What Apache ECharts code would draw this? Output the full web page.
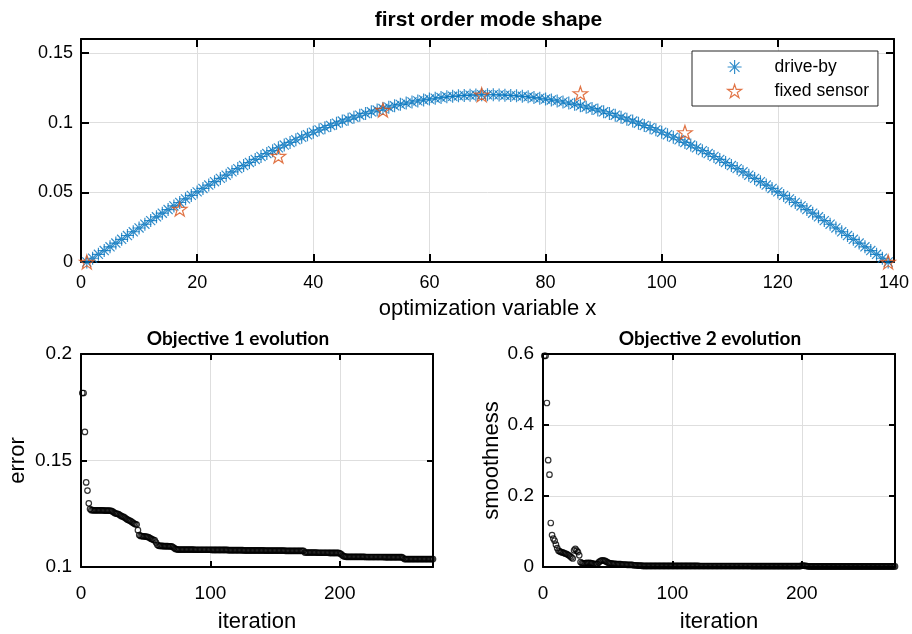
<!DOCTYPE html>
<html>
<head>
<meta charset="utf-8">
<script src="https://cdn.jsdelivr.net/npm/echarts@6/dist/echarts.min.js"></script>
<style>
  html, body { margin: 0; padding: 0; background: #fff; }
  #chart { width: 912px; height: 634px; }
</style>
</head>
<body>
<div id="chart"></div>
<script>
// First order mode shape identified from the drive-by measurements (node 1..139)
const driveByShape = [
  0.0000, 0.0027, 0.0055, 0.0082, 0.0109, 0.0136, 0.0163, 0.0190, 0.0217, 0.0244,
  0.0271, 0.0297, 0.0324, 0.0350, 0.0376, 0.0402, 0.0427, 0.0453, 0.0478, 0.0503,
  0.0528, 0.0552, 0.0576, 0.0600, 0.0623, 0.0647, 0.0670, 0.0692, 0.0714, 0.0736,
  0.0757, 0.0778, 0.0799, 0.0819, 0.0839, 0.0858, 0.0877, 0.0895, 0.0913, 0.0931,
  0.0948, 0.0964, 0.0980, 0.0996, 0.1011, 0.1025, 0.1039, 0.1053, 0.1066, 0.1078,
  0.1090, 0.1101, 0.1111, 0.1121, 0.1131, 0.1140, 0.1148, 0.1156, 0.1163, 0.1169,
  0.1175, 0.1180, 0.1185, 0.1189, 0.1192, 0.1195, 0.1197, 0.1199, 0.1200, 0.1200,
  0.1200, 0.1199, 0.1197, 0.1195, 0.1192, 0.1189, 0.1185, 0.1180, 0.1175, 0.1169,
  0.1163, 0.1156, 0.1148, 0.1140, 0.1131, 0.1121, 0.1111, 0.1101, 0.1090, 0.1078,
  0.1066, 0.1053, 0.1039, 0.1025, 0.1011, 0.0996, 0.0980, 0.0964, 0.0948, 0.0931,
  0.0913, 0.0895, 0.0877, 0.0858, 0.0839, 0.0819, 0.0799, 0.0778, 0.0757, 0.0736,
  0.0714, 0.0692, 0.0670, 0.0647, 0.0623, 0.0600, 0.0576, 0.0552, 0.0528, 0.0503,
  0.0478, 0.0453, 0.0427, 0.0402, 0.0376, 0.0350, 0.0324, 0.0297, 0.0271, 0.0244,
  0.0217, 0.0190, 0.0163, 0.0136, 0.0109, 0.0082, 0.0055, 0.0027, 0.0000
];

// Fixed sensor locations and their mode shape ordinates
const sensorPositions = [1, 17, 34, 52, 69, 86, 104, 139];
const sensorShape = [0.000, 0.038, 0.076, 0.109, 0.120, 0.121, 0.093, 0.000];

// Objective 1 (error) per iteration
const errorHistory = [
  0.1817, 0.1817, 0.1634, 0.1397, 0.1359, 0.1299, 0.1272, 0.1267, 0.1267, 0.1266,
  0.1266, 0.1266, 0.1266, 0.1266, 0.1266, 0.1266, 0.1266, 0.1265, 0.1265, 0.1265,
  0.1265, 0.1265, 0.1264, 0.1262, 0.1258, 0.1254, 0.1251, 0.1250, 0.1248, 0.1244,
  0.1240, 0.1237, 0.1235, 0.1231, 0.1226, 0.1222, 0.1219, 0.1217, 0.1213, 0.1208,
  0.1204, 0.1201, 0.1199, 0.1173, 0.1150, 0.1146, 0.1145, 0.1144, 0.1144, 0.1143,
  0.1142, 0.1140, 0.1137, 0.1133, 0.1130, 0.1128, 0.1125, 0.1115, 0.1104, 0.1100,
  0.1099, 0.1099, 0.1099, 0.1098, 0.1098, 0.1098, 0.1098, 0.1097, 0.1097, 0.1097,
  0.1094, 0.1089, 0.1085, 0.1083, 0.1082, 0.1082, 0.1082, 0.1082, 0.1082, 0.1082,
  0.1082, 0.1082, 0.1082, 0.1082, 0.1082, 0.1082, 0.1082, 0.1081, 0.1081, 0.1081,
  0.1081, 0.1081, 0.1081, 0.1081, 0.1081, 0.1081, 0.1081, 0.1081, 0.1081, 0.1081,
  0.1080, 0.1080, 0.1080, 0.1080, 0.1080, 0.1080, 0.1080, 0.1080, 0.1080, 0.1080,
  0.1080, 0.1080, 0.1080, 0.1079, 0.1079, 0.1079, 0.1079, 0.1079, 0.1079, 0.1079,
  0.1079, 0.1079, 0.1079, 0.1079, 0.1079, 0.1078, 0.1078, 0.1078, 0.1078, 0.1078,
  0.1078, 0.1078, 0.1078, 0.1078, 0.1078, 0.1078, 0.1078, 0.1078, 0.1078, 0.1078,
  0.1078, 0.1077, 0.1077, 0.1077, 0.1077, 0.1077, 0.1077, 0.1077, 0.1077, 0.1077,
  0.1077, 0.1077, 0.1077, 0.1077, 0.1077, 0.1077, 0.1077, 0.1076, 0.1076, 0.1076,
  0.1076, 0.1076, 0.1076, 0.1076, 0.1076, 0.1076, 0.1076, 0.1076, 0.1076, 0.1076,
  0.1076, 0.1076, 0.1068, 0.1068, 0.1068, 0.1068, 0.1068, 0.1068, 0.1068, 0.1068,
  0.1068, 0.1068, 0.1067, 0.1067, 0.1067, 0.1067, 0.1067, 0.1067, 0.1067, 0.1067,
  0.1067, 0.1066, 0.1066, 0.1066, 0.1066, 0.1066, 0.1066, 0.1066, 0.1066, 0.1064,
  0.1060, 0.1055, 0.1051, 0.1049, 0.1048, 0.1048, 0.1048, 0.1048, 0.1048, 0.1048,
  0.1048, 0.1048, 0.1048, 0.1048, 0.1048, 0.1048, 0.1048, 0.1048, 0.1048, 0.1047,
  0.1047, 0.1047, 0.1047, 0.1047, 0.1047, 0.1047, 0.1047, 0.1047, 0.1047, 0.1047,
  0.1047, 0.1047, 0.1047, 0.1047, 0.1046, 0.1046, 0.1046, 0.1046, 0.1046, 0.1046,
  0.1046, 0.1046, 0.1046, 0.1046, 0.1046, 0.1046, 0.1046, 0.1046, 0.1042, 0.1037,
  0.1037, 0.1037, 0.1037, 0.1037, 0.1037, 0.1037, 0.1037, 0.1037, 0.1037, 0.1037,
  0.1037, 0.1037, 0.1037, 0.1037, 0.1037, 0.1037, 0.1037, 0.1037, 0.1037, 0.1037,
  0.1037, 0.1037
];

// Objective 2 (smoothness) per iteration
const smoothnessHistory = [
  0.595, 0.595, 0.462, 0.301, 0.260, 0.124, 0.090, 0.080, 0.074, 0.063,
  0.053, 0.046, 0.044, 0.042, 0.041, 0.040, 0.038, 0.037, 0.035, 0.033,
  0.030, 0.027, 0.024, 0.047, 0.051, 0.046, 0.042, 0.033, 0.014, 0.011,
  0.010, 0.010, 0.011, 0.012, 0.011, 0.012, 0.011, 0.010, 0.009, 0.008,
  0.008, 0.009, 0.013, 0.016, 0.018, 0.019, 0.018, 0.017, 0.015, 0.013,
  0.011, 0.010, 0.010, 0.009, 0.009, 0.009, 0.008, 0.008, 0.008, 0.008,
  0.007, 0.007, 0.007, 0.007, 0.006, 0.006, 0.006, 0.006, 0.006, 0.005,
  0.005, 0.005, 0.004, 0.004, 0.004, 0.004, 0.003, 0.003, 0.003, 0.003,
  0.003, 0.003, 0.003, 0.003, 0.003, 0.003, 0.003, 0.003, 0.003, 0.003,
  0.003, 0.003, 0.003, 0.003, 0.003, 0.003, 0.003, 0.003, 0.003, 0.003,
  0.003, 0.003, 0.003, 0.003, 0.003, 0.003, 0.003, 0.003, 0.003, 0.003,
  0.003, 0.003, 0.003, 0.003, 0.003, 0.003, 0.003, 0.003, 0.003, 0.003,
  0.0028, 0.0028, 0.0028, 0.0028, 0.0028, 0.0028, 0.0028, 0.0028, 0.0028, 0.0028,
  0.0028, 0.0028, 0.0028, 0.0028, 0.0028, 0.0028, 0.0028, 0.0028, 0.0028, 0.0028,
  0.0028, 0.0028, 0.0028, 0.0028, 0.0028, 0.0028, 0.0028, 0.0028, 0.0028, 0.0028,
  0.0028, 0.0028, 0.0028, 0.0028, 0.0028, 0.0028, 0.0028, 0.0028, 0.0028, 0.0028,
  0.0025, 0.0025, 0.0025, 0.0025, 0.0025, 0.0025, 0.0025, 0.0025, 0.0025, 0.0025,
  0.0025, 0.0025, 0.0025, 0.0025, 0.0025, 0.0025, 0.0025, 0.0025, 0.0025, 0.0025,
  0.0025, 0.0025, 0.0025, 0.0025, 0.0025, 0.0025, 0.0025, 0.0025, 0.0025, 0.0025,
  0.0025, 0.0025, 0.0025, 0.0025, 0.0025, 0.0025, 0.0025, 0.0025, 0.0025, 0.004,
  0.004, 0.0035, 0.003, 0.0025, 0.002, 0.0015, 0.0015, 0.0015, 0.0015, 0.0015,
  0.0015, 0.0015, 0.0015, 0.0015, 0.0015, 0.0015, 0.0015, 0.0015, 0.0015, 0.0015,
  0.0015, 0.0015, 0.0015, 0.0015, 0.0015, 0.0015, 0.0015, 0.0015, 0.0015, 0.0015,
  0.0015, 0.0015, 0.0015, 0.0015, 0.0015, 0.0015, 0.0015, 0.0015, 0.0015, 0.0015,
  0.0015, 0.0015, 0.0015, 0.0015, 0.0015, 0.0015, 0.0015, 0.0015, 0.0015, 0.0015,
  0.0015, 0.0015, 0.0015, 0.0015, 0.0015, 0.0015, 0.0015, 0.0015, 0.0015, 0.0015,
  0.0015, 0.0015, 0.0015, 0.0015, 0.0015, 0.0015, 0.0015, 0.0015, 0.0015, 0.0015,
  0.0015, 0.0015
];

// Tick labels
const modeXTicks = ['0', '20', '40', '60', '80', '100', '120', '140'];
const modeYTicks = ['0', '0.05', '0.1', '0.15'];
const iterTicks = ['0', '100', '200'];
const errorTicks = ['0.1', '0.15', '0.2'];
const smoothTicks = ['0', '0.2', '0.4', '0.6'];

const FONT = '"Liberation Sans", Arial, Helvetica, sans-serif';
const TITLE_FONT = 'Lato, "Open Sans", sans-serif';
const ASTERISK = 'path://M50 0V100M0 50H100M15 15L85 85M15 85L85 15';
const PENTAGRAM = 'path://M50 0L61.23 34.55L97.55 34.55L68.17 55.9L79.39 90.45L50 69.1L20.61 90.45L31.83 55.9L2.45 34.55L38.77 34.55Z';
const BLUE = '#0072BD';
const ORANGE = '#D95319';

function tickFormatter(labels) {
  return function (v) {
    const hit = labels.find(t => Math.abs(parseFloat(t) - v) < 1e-9);
    return hit === undefined ? '' : hit;
  };
}

// A labelled axis plus a bare mirrored one, so every side of the box carries inward ticks
function axisPair(dim, gridIndex, range, labels, opts) {
  const line = { show: true, onZero: false, lineStyle: { color: '#000', width: 2 } };
  const tick = { show: true, inside: true, length: opts.tickLen, lineStyle: { color: '#000', width: 2 } };
  const main = {
    gridIndex, type: 'value', min: range[0], max: range[1], interval: range[2],
    position: dim === 'x' ? 'bottom' : 'left',
    axisLine: line, axisTick: tick,
    axisLabel: {
      show: true, margin: opts.labelMargin, fontSize: opts.labelSize, fontFamily: FONT, color: '#000',
      formatter: tickFormatter(labels), showMinLabel: true, showMaxLabel: true
    },
    splitLine: { show: true, lineStyle: { color: '#dedede', width: 1 } },
    name: opts.name, nameLocation: 'middle', nameGap: opts.nameGap,
    nameTextStyle: { fontSize: opts.nameSize, fontFamily: FONT, color: '#000' }
  };
  const mirror = {
    gridIndex, type: 'value', min: range[0], max: range[1], interval: range[2],
    position: dim === 'x' ? 'top' : 'right',
    axisLine: line, axisTick: tick,
    axisLabel: { show: false }, splitLine: { show: false }
  };
  return [main, mirror];
}

const xAxes = [].concat(
  axisPair('x', 0, [0, 140, 20], modeXTicks, { tickLen: 8, labelMargin: 12, labelSize: 18, name: 'optimization variable x', nameGap: 36, nameSize: 22 }),
  axisPair('x', 1, [0, 272, 100], iterTicks, { tickLen: 6, labelMargin: 17, labelSize: 19, name: 'iteration', nameGap: 44, nameSize: 22 }),
  axisPair('x', 2, [0, 272, 100], iterTicks, { tickLen: 6, labelMargin: 17, labelSize: 19, name: 'iteration', nameGap: 44, nameSize: 22 })
);
const yAxes = [].concat(
  axisPair('y', 0, [0, 0.16, 0.05], modeYTicks, { tickLen: 8, labelMargin: 8, labelSize: 18, name: '', nameGap: 0, nameSize: 18 }),
  axisPair('y', 1, [0.1, 0.2, 0.05], errorTicks, { tickLen: 6, labelMargin: 9, labelSize: 19, name: 'error', nameGap: 52, nameSize: 22 }),
  axisPair('y', 2, [0, 0.6, 0.2], smoothTicks, { tickLen: 6, labelMargin: 9, labelSize: 19, name: 'smoothness', nameGap: 40, nameSize: 22 })
);

const hollow = (c, w) => ({ color: 'rgba(0,0,0,0)', borderColor: c, borderWidth: w || 1 });

const option = {
  animation: false,
  backgroundColor: '#fff',
  grid: [
    { left: 81, top: 39, width: 815, height: 223, show: true, borderColor: '#000', borderWidth: 1 },
    { left: 81, top: 354, width: 352, height: 217, show: true, borderColor: '#000', borderWidth: 1 },
    { left: 543, top: 354, width: 352, height: 218, show: true, borderColor: '#000', borderWidth: 1 }
  ],
  xAxis: xAxes,
  yAxis: yAxes,
  legend: {
    orient: 'vertical', left: 692, top: 51,
    padding: [6, 9, 5, 35], itemGap: 4, itemWidth: 14, itemHeight: 14,
    backgroundColor: '#fff', borderColor: '#262626', borderWidth: 1, borderRadius: 0,
    textStyle: { fontSize: 17.5, fontFamily: FONT, color: '#000', lineHeight: 20, padding: [0, 0, 0, 28] },
    data: [
      { name: 'drive-by', icon: ASTERISK, itemStyle: hollow(BLUE, 1.2) },
      { name: 'fixed sensor', icon: PENTAGRAM, itemStyle: hollow(ORANGE, 1.2) }
    ]
  },
  graphic: [
    { type: 'text', x: 488.5, y: 20, style: { text: 'first order mode shape', font: 'bold 21px ' + FONT, fill: '#000', align: 'center', verticalAlign: 'middle' } },
    { type: 'text', x: 238, y: 339, style: { text: 'Objective 1 evolution', font: 'bold 19px ' + TITLE_FONT, fill: '#000', align: 'center', verticalAlign: 'middle' } },
    { type: 'text', x: 710, y: 339, style: { text: 'Objective 2 evolution', font: 'bold 19px ' + TITLE_FONT, fill: '#000', align: 'center', verticalAlign: 'middle' } }
  ],
  series: [
    {
      name: 'drive-by', type: 'scatter', xAxisIndex: 0, yAxisIndex: 0,
      symbol: ASTERISK, symbolSize: 13, itemStyle: hollow(BLUE, 1.2),
      emphasis: { disabled: true },
      data: driveByShape.map((v, i) => [i + 1, v])
    },
    {
      name: 'fixed sensor', type: 'scatter', xAxisIndex: 0, yAxisIndex: 0,
      symbol: PENTAGRAM, symbolSize: [14.5, 13.8], itemStyle: hollow(ORANGE, 1.2),
      emphasis: { disabled: true },
      data: sensorPositions.map((x, i) => [x, sensorShape[i]])
    },
    {
      name: 'error', type: 'scatter', xAxisIndex: 2, yAxisIndex: 2,
      symbol: 'circle', symbolSize: 5.5, itemStyle: hollow('#000', 1.2),
      emphasis: { disabled: true },
      data: errorHistory.map((v, i) => [i + 1, v])
    },
    {
      name: 'smoothness', type: 'scatter', xAxisIndex: 4, yAxisIndex: 4,
      symbol: 'circle', symbolSize: 5.5, itemStyle: hollow('#000', 1.2),
      emphasis: { disabled: true },
      data: smoothnessHistory.map((v, i) => [i + 1, v])
    }
  ]
};

const chart = echarts.init(document.getElementById('chart'), null, { renderer: 'canvas' });
chart.setOption(option);
</script>
</body>
</html>
